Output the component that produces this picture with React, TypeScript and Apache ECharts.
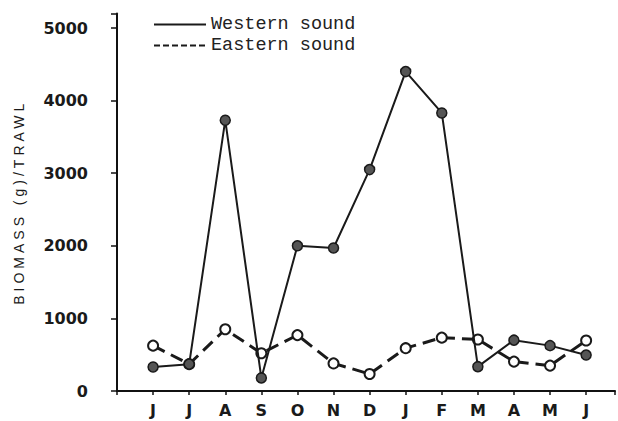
import React, { useEffect, useRef } from "react";
import * as echarts from "echarts";

const months = ["J", "J", "A", "S", "O", "N", "D", "J", "F", "M", "A", "M", "J"];
const western = [330, 370, 3730, 180, 2000, 1970, 3050, 4400, 3830, 335, 700, 625, 495];
const eastern = [625, 370, 850, 520, 770, 380, 235, 590, 735, 710, 405, 350, 695];
const yTicks = [0, 1000, 2000, 3000, 4000, 5000];
const seriesNames = ["Western sound", "Eastern sound"];
const yTitle = "BIOMASS (g)/TRAWL";

export default function App() {
  const ref = useRef<HTMLDivElement>(null);
  useEffect(() => {
    if (!ref.current) return;
    const chart = echarts.init(ref.current, undefined, { renderer: "svg" });
    const labelFont = { fontFamily: "DejaVu Sans", fontWeight: "bold" as const, fontSize: 16, color: "#1a1a1a" };
    chart.setOption({
      animation: false,
      backgroundColor: "#fff",
      grid: { left: 117, right: 0, top: 13.5, bottom: 30, containLabel: false },
      legend: {
        orient: "vertical",
        left: 153,
        top: 14,
        padding: 0,
        itemWidth: 52,
        itemHeight: 14,
        itemGap: 0,
        data: [
          { name: seriesNames[0] },
          { name: seriesNames[1], lineStyle: { type: [6, 3], width: 2 } },
        ],
        itemStyle: { opacity: 0 },
        textStyle: { fontFamily: "Liberation Mono", fontSize: 18.5, color: "#222", lineHeight: 21 },
      },
      xAxis: {
        type: "value",
        min: 0,
        max: 13.8,
        interval: 1,
        splitLine: { show: false },
        axisLine: { show: true, lineStyle: { color: "#111", width: 2 } },
        axisTick: { show: true, length: 4, lineStyle: { color: "#111", width: 1.5 } },
        axisLabel: {
          ...labelFont,
          margin: 11,
          formatter: (v: number) => (Number.isInteger(v) && v >= 1 && v <= months.length ? months[v - 1] : ""),
        },
      },
      yAxis: {
        type: "value",
        min: 0,
        max: 5200,
        interval: 1000,
        splitLine: { show: false },
        name: yTitle,
        nameLocation: "middle",
        nameGap: 91,
        nameTextStyle: { fontFamily: "Liberation Sans", fontSize: 14, color: "#1a1a1a" },
        axisLine: { show: true, lineStyle: { color: "#111", width: 2 } },
        axisTick: { show: true, length: 6, lineStyle: { color: "#111", width: 1.5 } },
        axisLabel: {
          ...labelFont,
          margin: 29,
          formatter: (v: number) => (yTicks.includes(v) ? String(v) : ""),
        },
      },
      series: [
        {
          name: seriesNames[1],
          type: "line",
          z: 2,
          data: eastern.map((v, i) => [i + 1, v]),
          symbol: "circle",
          symbolSize: 10,
          lineStyle: { color: "#1a1a1a", width: 3, type: [13, 7] },
          itemStyle: { color: "#fff", borderColor: "#1a1a1a", borderWidth: 2 },
        },
        {
          name: seriesNames[0],
          type: "line",
          z: 3,
          data: western.map((v, i) => [i + 1, v]),
          symbol: "circle",
          symbolSize: 10,
          lineStyle: { color: "#1a1a1a", width: 2 },
          itemStyle: { color: "#555", borderColor: "#1a1a1a", borderWidth: 1.5 },
        },
      ],
    });
    const texts = ref.current.querySelectorAll("text");
    texts.forEach((t) => {
      if (t.textContent === yTitle) t.setAttribute("letter-spacing", "4");
    });
    return () => chart.dispose();
  }, []);
  return <div ref={ref} style={{ position: "fixed", left: 0, top: 0, width: 618, height: 421 }} />;
}
